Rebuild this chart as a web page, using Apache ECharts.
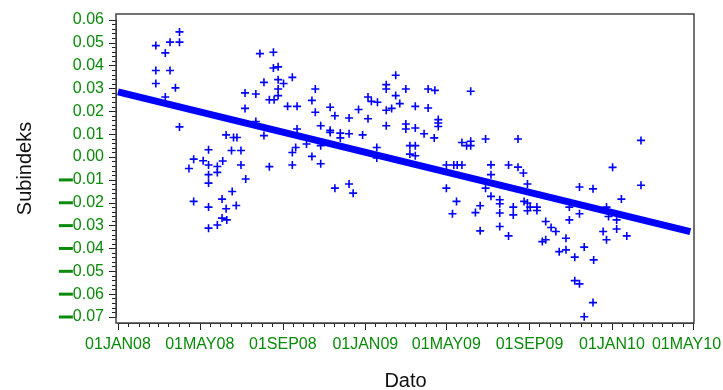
<!DOCTYPE html>
<html>
<head>
<meta charset="utf-8">
<script src="https://cdn.jsdelivr.net/npm/echarts@6/dist/echarts.min.js"></script>
<style>
  html, body { margin: 0; padding: 0; background: #fff; }
  #chart { width: 723px; height: 390px; }
</style>
</head>
<body>
<div id="chart"></div>
<script>
// observasjoner (dato, subindeks)
var pointDates = [
  '2008-02-26','2008-04-01','2008-03-18','2008-04-01','2008-03-11','2008-02-26','2008-03-18','2008-02-26','2008-03-26','2008-03-11',
  '2008-04-01','2008-07-29','2008-08-18','2008-08-18','2008-08-25','2008-09-15','2008-08-04','2008-08-25','2008-09-02','2008-08-25',
  '2008-07-07','2008-07-23','2008-08-12','2008-08-19','2008-08-25','2008-09-08','2008-09-22','2008-10-14','2008-07-07','2008-07-23',
  '2008-09-22','2008-06-09','2008-06-20','2008-06-25','2008-08-04','2008-10-06','2008-09-20','2008-09-15','2008-10-14','2008-05-14',
  '2008-06-17','2008-07-01','2008-04-22','2008-05-06','2008-04-15','2008-05-14','2008-05-27','2008-06-04','2008-07-01','2008-08-12',
  '2008-09-15','2008-05-14','2008-05-27','2008-05-14','2008-07-08','2008-06-18','2008-04-22','2008-06-03','2008-05-14','2008-06-09',
  '2008-06-24','2008-06-03','2008-06-10','2008-05-27','2008-05-14','2009-02-15','2009-02-01','2009-02-01','2009-03-02','2008-10-19',
  '2009-04-04','2009-04-14','2009-06-06','2009-01-05','2009-01-10','2009-01-19','2009-02-15','2009-02-21','2008-11-10','2008-10-19',
  '2008-11-17','2008-12-22','2008-12-08','2009-01-05','2009-02-01','2009-02-09','2009-03-16','2009-04-04','2009-04-19','2009-04-19',
  '2009-04-19','2008-10-27','2009-02-01','2009-03-02','2009-03-02','2009-03-16','2008-11-10','2008-11-10','2008-11-25','2008-11-25',
  '2008-12-08','2008-12-28','2009-03-29','2009-04-13','2008-10-27','2009-01-18','2009-01-18','2009-03-08','2009-03-16','2009-03-08',
  '2009-03-16','2009-05-01','2009-05-12','2009-05-17','2009-05-24','2009-05-24','2009-06-06','2009-05-31','2009-06-06','2009-06-28',
  '2009-07-06','2008-10-27','2009-07-06','2008-11-17','2008-12-08','2008-12-14','2009-05-01','2009-05-16','2009-05-10','2009-06-20',
  '2009-06-13','2009-06-28','2009-07-06','2009-06-20','2009-07-19','2009-07-19','2009-07-19','2009-07-19','2009-08-01','2009-08-15',
  '2009-08-23','2009-08-29','2009-08-01','2009-08-08','2009-08-08','2009-08-24','2009-08-29','2009-09-02','2009-08-29','2009-09-12',
  '2009-09-12','2009-09-25','2009-10-03','2009-10-10','2009-09-20','2009-09-25','2009-10-25','2009-10-30','2009-10-30','2009-10-15',
  '2009-10-25','2009-11-07','2009-11-14','2009-11-14','2009-11-21','2009-11-07','2009-11-14','2009-12-04','2009-12-05','2009-12-04',
  '2009-11-21','2010-01-02','2009-12-24','2009-12-27','2009-12-19','2009-12-24','2010-01-08','2010-01-08','2010-01-15','2010-01-23',
  '2010-02-13','2009-08-15','2010-02-13'
];
var pointValues = [
  0.0488, 0.0548, 0.0503, 0.0503, 0.0456, 0.0379, 0.0379, 0.0322, 0.0303, 0.0263,
  0.0132, 0.0453, 0.0459, 0.0390, 0.0395, 0.0349, 0.0327, 0.0339, 0.0322, 0.0298,
  0.0281, 0.0276, 0.0251, 0.0251, 0.0269, 0.0222, 0.0222, 0.0248, 0.0213, 0.0156,
  0.0123, 0.0097, 0.0086, 0.0086, 0.0094, 0.0057, 0.0042, 0.0020, 0.0003, 0.0032,
  0.0029, 0.0029, -0.0009, -0.0016, -0.0050, -0.0035, -0.0041, -0.0017, -0.0035, -0.0042,
  -0.0035, -0.0077, -0.0067, -0.0114, -0.0096, -0.0151, -0.0194, -0.0184, -0.0219, -0.0226,
  -0.0212, -0.0267, -0.0275, -0.0297, -0.0311, 0.0358, 0.0317, 0.0298, 0.0298, 0.0298,
  0.0298, 0.0292, 0.0288, 0.0263, 0.0244, 0.0240, 0.0269, 0.0234, 0.0218, 0.0196,
  0.0181, 0.0208, 0.0171, 0.0168, 0.0205, 0.0213, 0.0222, 0.0215, 0.0164, 0.0149,
  0.0134, 0.0137, 0.0137, 0.0145, 0.0123, 0.0127, 0.0117, 0.0108, 0.0105, 0.0084,
  0.0102, 0.0097, 0.0102, 0.0084, 0.0050, 0.0042, -0.0004, 0.0050, 0.0050, 0.0013,
  0.0006, -0.0035, -0.0035, -0.0035, -0.0035, 0.0064, 0.0069, 0.0050, 0.0050, 0.0079,
  -0.0034, -0.0029, -0.0077, -0.0136, -0.0118, -0.0158, -0.0136, -0.0194, -0.0248, -0.0213,
  -0.0243, -0.0136, -0.0172, -0.0323, -0.0187, -0.0204, -0.0245, -0.0304, -0.0035, -0.0044,
  -0.0070, -0.0118, -0.0345, -0.0219, -0.0253, -0.0194, -0.0201, -0.0219, -0.0235, -0.0219,
  -0.0234, -0.0282, -0.0308, -0.0326, -0.0370, -0.0362, -0.0355, -0.0275, -0.0219, -0.0414,
  -0.0406, -0.0438, -0.0131, -0.0248, -0.0394, -0.0541, -0.0555, -0.0139, -0.0450, -0.0637,
  -0.0699, -0.0045, -0.0219, -0.0260, -0.0326, -0.0362, -0.0275, -0.0315, -0.0184, -0.0345,
  -0.0123, 0.0079, 0.0073
];

// regresjonslinje
var trendDates = ['2008-01-01', '2010-04-27'];
var trendValues = [0.0285, -0.0326];

// akse
var tickDates = ['2008-01-01','2008-05-01','2008-09-01','2009-01-01','2009-05-01','2009-09-01','2010-01-01','2010-05-01'];
var tickLabels = ['01JAN08','01MAY08','01SEP08','01JAN09','01MAY09','01SEP09','01JAN10','01MAY10'];

var green = '#0a8a0a';
var fontFam = 'Liberation Sans, Arial, sans-serif';

function toTime(s) {
    var p = s.split('-');
    return new Date(+p[0], +p[1] - 1, +p[2]).getTime();
}

var tickTimes = tickDates.map(toTime);

// små streker: 1. og 16. i hver måned
var minorTimes = [];
for (var y = 2008; y <= 2010; y++) {
    for (var m = 0; m < 12; m++) {
        [1, 16].forEach(function (d) {
            var t = new Date(y, m, d).getTime();
            if (t > tickTimes[0] && t < tickTimes[tickTimes.length - 1] && tickTimes.indexOf(t) < 0) {
                minorTimes.push(t);
            }
        });
    }
}

var points = pointDates.map(function (d, i) {
    return [toTime(d), pointValues[i]];
});
var trend = trendDates.map(function (d, i) {
    return [toTime(d), trendValues[i]];
});

var chart = echarts.init(document.getElementById('chart'), null, {renderer: 'canvas'});

var option = {
    animation: false,
    backgroundColor: '#fff',
    grid: {
        left: 118,
        right: 30,
        top: 20,
        bottom: 73,
        containLabel: false,
        outerBoundsMode: 'none'
    },
    graphic: [{
        type: 'rect',
        shape: {x: 116, y: 14, width: 578, height: 309},
        style: {fill: 'none', stroke: '#444', lineWidth: 1.5},
        z: 100,
        silent: true
    }],
    xAxis: [{
        type: 'value',
        min: tickTimes[0],
        max: tickTimes[tickTimes.length - 1],
        position: 'bottom',
        offset: 6,
        name: 'Dato',
        nameLocation: 'middle',
        nameGap: 48,
        nameTextStyle: {color: '#111', fontSize: 20, fontFamily: fontFam},
        axisLine: {show: true, onZero: false, lineStyle: {color: '#222', width: 1}},
        axisTick: {show: true, customValues: tickTimes, length: 7, lineStyle: {color: '#222'}},
        axisLabel: {
            customValues: tickTimes,
            margin: 14,
            color: green,
            fontSize: 16,
            fontFamily: fontFam,
            showMinLabel: true,
            showMaxLabel: true,
            hideOverlap: false,
            formatter: function (v) {
                var i = tickTimes.indexOf(v);
                if (i < 0) return '';
                // siste etikett skyves litt inn så den får plass
                return i === tickTimes.length - 1 ? '{r|' + tickLabels[i] + '}' : tickLabels[i];
            },
            rich: {
                r: {color: green, fontSize: 16, fontFamily: fontFam, padding: [0, 13, 0, 0]}
            }
        },
        splitLine: {show: false}
    }, {
        type: 'value',
        min: tickTimes[0],
        max: tickTimes[tickTimes.length - 1],
        position: 'bottom',
        offset: 6,
        axisLine: {show: false, onZero: false},
        axisTick: {show: true, customValues: minorTimes, length: 4, lineStyle: {color: '#222'}},
        axisLabel: {show: false},
        splitLine: {show: false}
    }],
    yAxis: {
        type: 'value',
        min: -0.07,
        max: 0.06,
        interval: 0.01,
        offset: 2,
        name: 'Subindeks',
        nameLocation: 'middle',
        nameGap: 81,
        nameTextStyle: {color: '#111', fontSize: 20, fontFamily: fontFam},
        axisLine: {show: true, onZero: false, lineStyle: {color: '#222', width: 1}},
        axisTick: {show: true, length: 7, lineStyle: {color: '#222'}},
        minorTick: {show: true, splitNumber: 5, length: 4, lineStyle: {color: '#222'}},
        axisLabel: {
            margin: 12,
            color: green,
            fontSize: 16,
            fontFamily: fontFam,
            formatter: function (v) {
                var s = Math.abs(v).toFixed(2);
                return v < -0.0001 ? '{d|}{n|' + s + '}' : '{n|' + s + '}';
            },
            rich: {
                d: {width: 14, height: 3, backgroundColor: green},
                n: {color: green, fontSize: 16, fontFamily: fontFam}
            }
        },
        splitLine: {show: false}
    },
    series: [{
        name: 'Trend',
        type: 'line',
        data: trend,
        symbol: 'none',
        lineStyle: {color: '#0000ff', width: 7, cap: 'butt'},
        z: 2,
        silent: true
    }, {
        name: 'Subindeks',
        type: 'scatter',
        data: points,
        symbol: 'path://M0,3.2H3.2V0H4.8V3.2H8V4.8H4.8V8H3.2V4.8H0Z',
        symbolSize: 8,
        itemStyle: {color: '#0000ff', opacity: 1},
        z: 3
    }]
};

chart.setOption(option);
</script>
</body>
</html>
